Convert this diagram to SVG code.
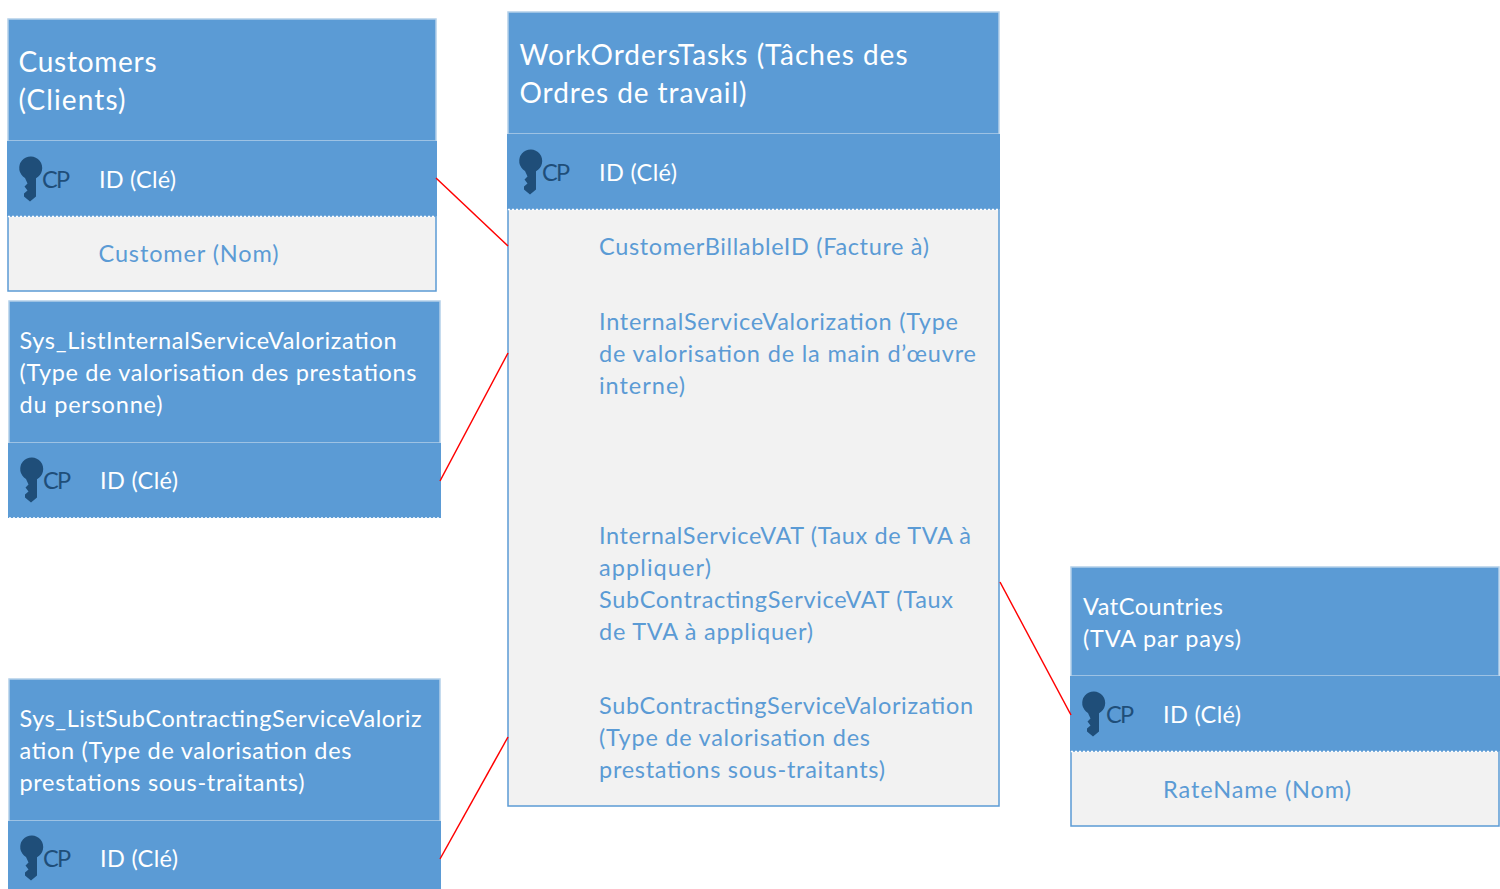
<svg xmlns="http://www.w3.org/2000/svg" xmlns:xlink="http://www.w3.org/1999/xlink" width="1500" height="889" viewBox="0 0 1500 889">
<style>
text{font-family:"Lato","Carlito","Liberation Sans",sans-serif;font-size:23.5px;fill:#fff}
.h{font-size:28px}
.b{fill:#5b9bd5}
.f{fill:#5b9bd5;stroke:#b3cfe9;stroke-width:1.5}
.w{fill:#f2f2f2;stroke:#5b9bd5;stroke-width:1.5}
.k{fill:#1f4e79}
.c{fill:#1f4e79}
.d{stroke:#fff;stroke-width:1.5;stroke-dasharray:2 2;fill:none}
.v{fill:#5b9bd5}
.l{stroke:#f00;stroke-width:1.5;fill:none}
</style>
<defs>
<path id="key" d="M-6 10A11.500 11.500 0 1 1 5 10.200V28.500L-1 33.500L-7 28.500L-7 25.500L-3.500 22.500L-6.500 18.500L-3.500 15.500Z"/>
</defs>
<g id="customers">
<rect class="w" x="8" y="216" width="428" height="75"/>
<rect class="f" x="8" y="19" width="428" height="122"/>
<rect class="b" x="7" y="141" width="430" height="75"/>
<line class="d" x1="8" y1="216.500" x2="436" y2="216.500"/>
<text class="h" x="18.500" y="72" textLength="138">Customers</text>
<text class="h" x="18.500" y="110" textLength="107">(Clients)</text>
<use href="#key" class="k" x="31" y="168"/>
<text class="c" x="42" y="188" textLength="28">CP</text>
<text x="99" y="188" textLength="77">ID (Clé)</text>
<text class="v" x="98.500" y="262" textLength="180">Customer (Nom)</text>
</g>
<g id="workorderstasks">
<rect class="w" x="508" y="209" width="491" height="597"/>
<rect class="f" x="508" y="12" width="491" height="122"/>
<rect class="b" x="507" y="134" width="493" height="75"/>
<line class="d" x1="508" y1="209.500" x2="999" y2="209.500"/>
<text class="h" x="519.500" y="65" textLength="388">WorkOrdersTasks (Tâches des</text>
<text class="h" x="519.500" y="103" textLength="227">Ordres de travail)</text>
<use href="#key" class="k" x="531" y="161"/>
<text class="c" x="542" y="181" textLength="28">CP</text>
<text x="599" y="181" textLength="78">ID (Clé)</text>
<text class="v" x="599" y="255" textLength="330">CustomerBillableID (Facture à)</text>
<text class="v" x="599" y="330" textLength="359">InternalServiceValorization (Type</text>
<text class="v" x="599" y="362" textLength="377">de valorisation de la main d’œuvre</text>
<text class="v" x="599" y="394" textLength="86">interne)</text>
<text class="v" x="599" y="544" textLength="372">InternalServiceVAT (Taux de TVA à</text>
<text class="v" x="599" y="576" textLength="112">appliquer)</text>
<text class="v" x="599" y="608" textLength="354">SubContractingServiceVAT (Taux</text>
<text class="v" x="599" y="640" textLength="214">de TVA à appliquer)</text>
<text class="v" x="599" y="714" textLength="374">SubContractingServiceValorization</text>
<text class="v" x="599" y="746" textLength="271">(Type de valorisation des</text>
<text class="v" x="599" y="778" textLength="286">prestations sous-traitants)</text>
</g>
<g id="sys-internal">
<rect class="f" x="9" y="301" width="431" height="142"/>
<rect class="b" x="8" y="443" width="433" height="75"/>
<line class="d" x1="9" y1="518" x2="440" y2="518"/>
<text x="19.500" y="349" textLength="377">Sys_ListInternalServiceValorization</text>
<text x="19.500" y="381" textLength="397">(Type de valorisation des prestations</text>
<text x="19.500" y="413" textLength="143">du personne)</text>
<use href="#key" class="k" x="32" y="469"/>
<text class="c" x="43" y="489" textLength="28">CP</text>
<text x="100" y="489" textLength="78">ID (Clé)</text>
</g>
<g id="sys-subcontracting">
<rect class="f" x="9" y="679" width="431" height="142"/>
<rect class="b" x="8" y="821" width="433" height="68"/>
<text x="19.500" y="727" textLength="402">Sys_ListSubContractingServiceValoriz</text>
<text x="19.500" y="759" textLength="332">ation (Type de valorisation des</text>
<text x="19.500" y="791" textLength="285">prestations sous-traitants)</text>
<use href="#key" class="k" x="32" y="847"/>
<text class="c" x="43" y="867" textLength="28">CP</text>
<text x="100" y="867" textLength="78">ID (Clé)</text>
</g>
<g id="vatcountries">
<rect class="w" x="1071" y="751" width="428" height="75"/>
<rect class="f" x="1071" y="567" width="428" height="109"/>
<rect class="b" x="1070" y="676" width="430" height="75"/>
<line class="d" x1="1071" y1="751.500" x2="1499" y2="751.500"/>
<text x="1083" y="615" textLength="140">VatCountries</text>
<text x="1083" y="647" textLength="158">(TVA par pays)</text>
<use href="#key" class="k" x="1094" y="703"/>
<text class="c" x="1106" y="723" textLength="28">CP</text>
<text x="1163" y="723" textLength="78">ID (Clé)</text>
<text class="v" x="1163" y="798" textLength="188">RateName (Nom)</text>
</g>
<g id="connectors">
<line class="l" x1="436" y1="178" x2="508" y2="246"/>
<line class="l" x1="440" y1="481" x2="508" y2="353"/>
<line class="l" x1="440" y1="859" x2="508" y2="737"/>
<line class="l" x1="1000" y1="582" x2="1071" y2="715"/>
</g>
</svg>
